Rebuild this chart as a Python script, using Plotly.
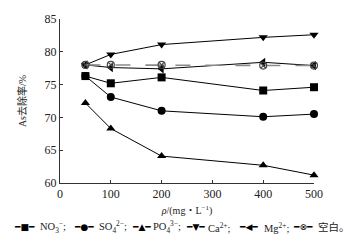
import plotly.graph_objects as go

x_vals = [50, 100, 200, 400, 500]
no3 = [76.3, 75.2, 76.1, 74.1, 74.6]
so4 = [76.3, 73.1, 71.0, 70.1, 70.5]
po4 = [72.2, 68.3, 64.1, 62.7, 61.2]
ca = [78.0, 79.6, 81.1, 82.2, 82.6]
mg = [78.0, 77.6, 77.4, 78.4, 77.9]
blank = [78.0, 78.0, 78.0, 77.9, 77.9]

names = ["NO<sub>3</sub><sup>−</sup>;", "SO<sub>4</sub><sup>2−</sup>;", "PO<sub>4</sub><sup>3−</sup>;",
         "Ca<sup>2+</sup>;", "Mg<sup>2+</sup>;", "空白。"]
series = [no3, so4, po4, ca, mg, blank]
symbols = ["square", "circle", "triangle-up", "triangle-down", "triangle-left", "circle-x-open"]
glyphs = ["■", "●", "▲", "▼", "◀", "⊗"]
x_ticks = [0, 100, 200, 300, 400, 500]
y_ticks = [60, 65, 70, 75, 80, 85]

# legend layout (paper pixel positions)
W, H = 364, 241
leg_sym_x = [24, 84, 141, 195, 248, 303]
leg_txt_x = [38, 97, 151, 206, 262, 316]
leg_y = 227

fig = go.Figure()
for nm, ys, sym in zip(names, series, symbols):
    is_blank = nm.startswith("空白")
    fig.add_trace(go.Scatter(
        x=x_vals, y=ys, name=nm, mode="lines+markers", showlegend=False, cliponaxis=False,
        line=dict(color="#8a8a8a" if is_blank else "black", width=1.6 if is_blank else 1,
                  dash="longdash" if is_blank else "solid"),
        marker=dict(symbol=sym, size=7 if is_blank else 8, color="#444444" if is_blank else "black",
                    line=dict(width=1.2 if is_blank else 0, color="#444444")),
    ))

l, r, t, b = 60, 50, 19, 58
pw, ph = W - l - r, H - t - b

annotations = []
for i, (nm, g) in enumerate(zip(names, glyphs)):
    yy = 1 - (leg_y - t) / ph
    annotations.append(dict(
        x=(leg_sym_x[i] - l) / pw, y=yy, xref="paper", yref="paper",
        xanchor="center", yanchor="middle", showarrow=False,
        text="━" + g + "━", font=dict(family="DejaVu Sans", size=9, color="black"),
    ))
    annotations.append(dict(
        x=(leg_txt_x[i] - l) / pw, y=yy, xref="paper", yref="paper",
        xanchor="left", yanchor="middle", showarrow=False,
        text=nm, font=dict(family="Liberation Serif, Noto Sans CJK SC", size=10.5, color="#222"),
    ))

fig.update_layout(
    width=W, height=H,
    margin=dict(l=l, r=r, t=t, b=b, autoexpand=False),
    paper_bgcolor="white", plot_bgcolor="white",
    font=dict(family="Liberation Serif, Noto Sans CJK SC", size=12, color="#222"),
    showlegend=False,
    annotations=annotations,
    xaxis=dict(range=[0, 500], tickvals=x_ticks, showline=True,
               linecolor="#333", linewidth=1, ticks="inside", ticklen=3, tickcolor="#333",
               showgrid=False, zeroline=False,
               title=dict(text="<i>ρ</i>/(mg・L<sup>−1</sup>)", font=dict(size=10), standoff=6)),
    yaxis=dict(range=[60, 85], tickvals=y_ticks, showline=True,
               linecolor="#333", linewidth=1, ticks="inside", ticklen=3, tickcolor="#333",
               showgrid=False, zeroline=False,
               title=dict(text="As去除率/%", font=dict(size=10), standoff=16)),
)

fig.write_html("out.html", config={"displayModeBar": False},
               post_script="document.body.style.margin='0';document.body.style.overflow='hidden';")
